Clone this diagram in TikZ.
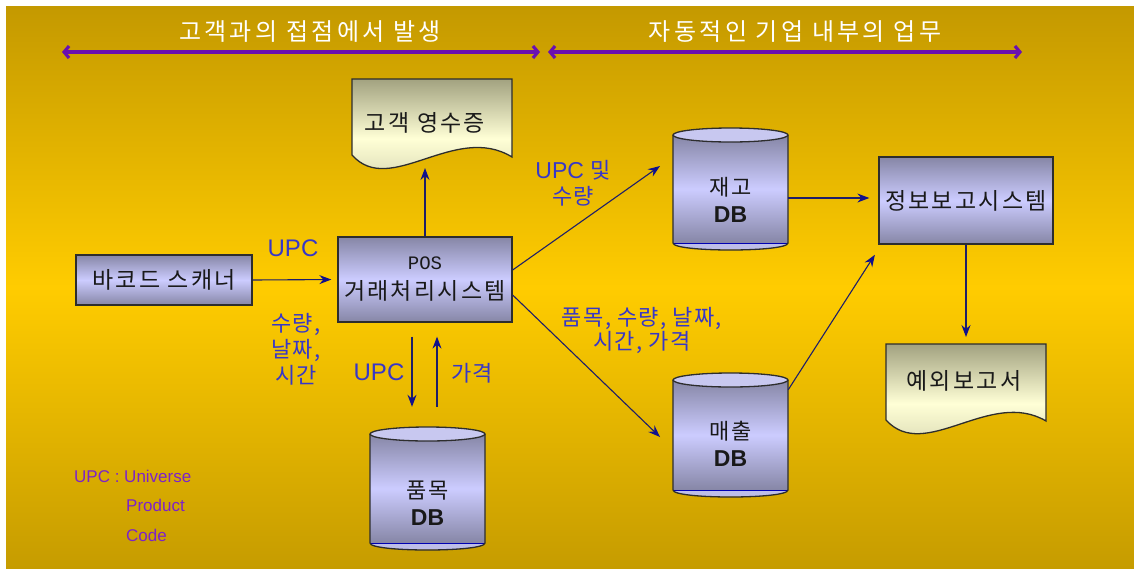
\documentclass[tikz,border=0pt]{standalone}
\usepackage{fontspec}
\setmainfont{Liberation Sans}
\newfontfamily\kr{Noto Sans CJK KR}
\newfontfamily\krw[LetterSpace=10]{Noto Sans CJK KR}
\newfontfamily\krh[LetterSpace=14]{Noto Sans CJK KR}
\newfontfamily\krl[LetterSpace=6]{Noto Sans CJK KR}
\newfontfamily\monof{Liberation Mono}
\usetikzlibrary{arrows.meta}
\definecolor{bgtop}{RGB}{196,153,0}
\definecolor{bgmid}{RGB}{255,204,0}
\definecolor{bgbot}{RGB}{198,156,0}
\definecolor{boxdark}{RGB}{134,134,166}
\definecolor{boxlight}{RGB}{204,204,255}
\definecolor{cyllowc}{RGB}{190,190,232}
\definecolor{cyltopc}{RGB}{200,200,240}
\definecolor{docdark}{RGB}{162,162,128}
\definecolor{doclight}{RGB}{255,255,214}
\definecolor{edgec}{RGB}{45,45,45}
\definecolor{flowc}{RGB}{30,30,105}
\definecolor{tipc}{RGB}{16,16,140}
\definecolor{lblc}{RGB}{55,55,200}
\definecolor{purp}{RGB}{106,16,176}
\definecolor{legc}{RGB}{125,35,200}
\definecolor{txtc}{RGB}{25,25,25}
\newcommand\dbcyl[6]{%
 \path[cylbody] ({#2-57.5},{#3+7}) -- ({#2-57.5},{#4-7}) -- ({#2+57.5},{#4-7}) -- ({#2+57.5},{#3+7}) -- cycle;
 \path[fill=cyllowc] ({#2-57.5},{#4-7}) .. controls ({#2-57.5},{#4+2.33}) and ({#2+57.5},{#4+2.33}) .. ({#2+57.5},{#4-7}) -- cycle;
 \draw[blue!70!black, line width=1pt] ({#2-57.5},{#4-7}) -- ({#2+57.5},{#4-7});
 \draw[edgeline] ({#2-57.5},{#3+7}) -- ({#2-57.5},{#4-7}) .. controls ({#2-57.5},{#4+2.33}) and ({#2+57.5},{#4+2.33}) .. ({#2+57.5},{#4-7}) -- ({#2+57.5},{#3+7});
 \path[edgeline, fill=cyltopc] (#2,{#3+7}) ellipse [x radius=57.5, y radius=7];
 \node[cylnode, minimum height={(#4-#3)*1pt}] (#1) at (#2,{(#3+#4)/2}) {};
 \node[dbtext] (#1t) at (#2,#6) {#5};
}
\begin{document}
\begin{tikzpicture}[x=1pt,y=-1pt,
  edgeline/.style={draw=edgec, line width=1.3pt},
  cylbody/.style={top color=boxdark, bottom color=boxdark, middle color=boxlight},
  cylnode/.style={minimum width=115pt, inner sep=0pt, draw=none},
  dbtext/.style={text=txtc, align=center, font=\krw\fontsize{22}{27}\selectfont, inner sep=0pt},
  boxn/.style={draw=edgec, line width=1.3pt, top color=boxdark, bottom color=boxdark, middle color=boxlight,
     inner sep=0pt, text=txtc, align=center, font=\krw\fontsize{23}{30}\selectfont},
  docshape/.style={draw=edgec, line width=1.3pt, top color=docdark, bottom color=docdark!55!doclight, middle color=doclight},
  doctext/.style={text=txtc, font=\krw\fontsize{23}{25}\selectfont, inner sep=0pt},
  flow/.style={draw=flowc, line width=1.1pt, -{Stealth[length=12pt,width=9pt,inset=4pt,color=tipc]}},
  hdr/.style={draw=purp, line width=3.2pt, {Straight Barb[length=5pt,width=12pt]}-{Straight Barb[length=5pt,width=12pt]}},
  hdrtext/.style={text=white, font=\krh\fontsize{24}{26}\selectfont, inner sep=0pt},
  lbl/.style={text=lblc, font=\krl\fontsize{22}{26}\selectfont, align=center, inner sep=0pt},
  lblu/.style={text=lblc, font=\fontsize{24}{26}\selectfont, inner sep=0pt},
  legend/.style={text=legc, font=\fontsize{17}{20}\selectfont, inner sep=0pt, anchor=west}]
\useasboundingbox (0,0) rectangle (1134,568);
\fill[white] (0,0) rectangle (1134,568);
\path[top color=bgtop, bottom color=bgbot, middle color=bgmid] (6,6) rectangle (1134,568);

% header
\coordinate (hL1) at (62,52); \coordinate (hR1) at (540,52);
\coordinate (hL2) at (548,52); \coordinate (hR2) at (1022,52);
\draw[hdr] (hL1) -- (hR1);
\draw[hdr] (hL2) -- (hR2);
\node[hdrtext] (h1) at (310,32) {고객과의 접점에서 발생};
\node[hdrtext] (h2) at (795,32) {자동적인 기업 내부의 업무};

% documents
\path[docshape] (352,79) -- (512,79) -- (512,157) .. controls (455,122) and (390,198) .. (352,155) -- cycle;
\node[doctext] (rcpt) at (425,123) {고객 영수증};
\path[docshape] (886,344) -- (1046,344) -- (1046,421) .. controls (990,388) and (925,463) .. (886,420) -- cycle;
\node[doctext] (exc) at (964,381) {예외보고서};

% boxes
\node[boxn, minimum width=176pt, minimum height=50pt] (scan) at (164,280) {바코드 스캐너};
\node[boxn, minimum width=174pt, minimum height=85pt] (pos) at (425,279.5) {{\monof\fontsize{19}{30}\selectfont POS}\\거래처리시스템};
\node[boxn, minimum width=174pt, minimum height=87pt] (info) at (966,200.5) {정보보고시스템};

% cylinders
\dbcyl{jaego}{730.5}{128}{250}{재고\\{\rmfamily\bfseries\fontsize{23}{27}\selectfont DB}}{199.5}
\dbcyl{maechul}{730.5}{373}{497}{매출\\{\rmfamily\bfseries\fontsize{23}{27}\selectfont DB}}{444}
\dbcyl{pummok}{427.5}{427}{550}{품목\\{\rmfamily\bfseries\fontsize{23}{27}\selectfont DB}}{503}

% connectors
\coordinate (rtip) at (425,168);
\coordinate (etip) at (966,337);
\coordinate (jtip) at (660,166);
\coordinate (mtip) at (660,437);
\draw[flow] (pos.north) -- (rtip);
\draw[flow, shorten >=6pt] (scan.east) -- (pos.west);
\draw[flow, shorten <=14pt, shorten >=20pt] ([xshift=-13pt]pos.south) -- ([xshift=-13pt]pos.south |- pummok.north);
\draw[flow, shorten <=20pt, shorten >=14pt] ([xshift=12pt]pos.south |- pummok.north) -- ([xshift=12pt]pos.south);
\draw[flow] ([yshift=9.5pt]pos.east) -- (jtip);
\draw[flow] ([yshift=-15.5pt]pos.east) -- (mtip);
\draw[flow, shorten >=9pt] ([yshift=-9pt]jaego.east) -- ([yshift=-9pt]jaego.east -| info.west);
\draw[flow, shorten >=12pt] ([yshift=-17pt]maechul.north east) -- ([xshift=3pt]info.south west);
\draw[flow] (info.south) -- (etip);

% labels
\node[lblu] (l1) at (293,248) {UPC};
\node[lbl] (l2) at (296,349) {수량,\\날짜,\\시간};
\node[lblu] (l3) at (379,372) {UPC};
\node[lbl] (l4) at (472,373) {가격};
\node[lbl] (l5) at (573,183) {{\rmfamily\fontsize{23}{26}\selectfont UPC} 및\\수량};
\node[lbl, font=\krl\fontsize{22}{24}\selectfont] (l6) at (642,330) {품목, 수량, 날짜,\\시간, 가격};

% legend
\node[legend] (g1) at (74,476) {UPC : Universe};
\node[legend] (g2) at (126,505) {Product};
\node[legend] (g3) at (126,535) {Code};
\end{tikzpicture}
\end{document}
